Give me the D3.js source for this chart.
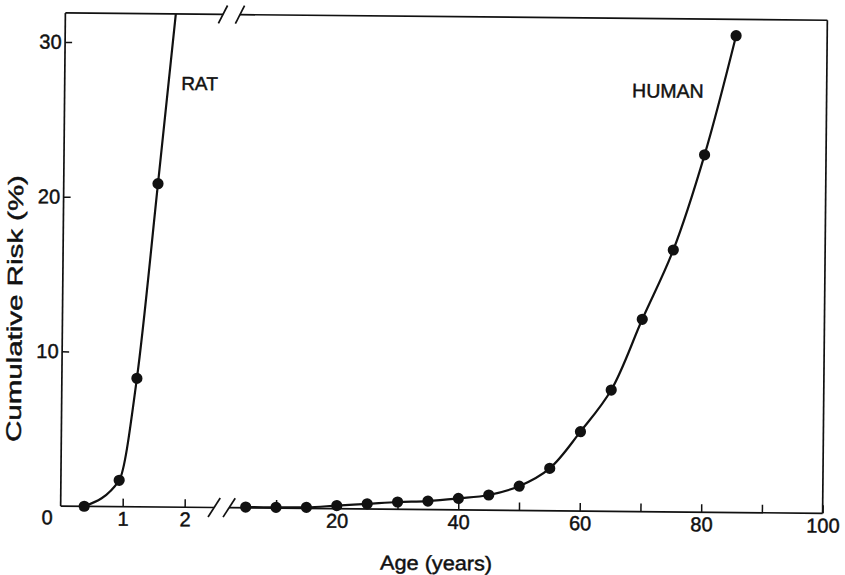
<!DOCTYPE html>
<html>
<head>
<meta charset="utf-8">
<script src="https://cdn.jsdelivr.net/npm/d3@7"></script>
<style>
  body { margin: 0; background: #fff; }
  text { font-family: "Liberation Sans", Arial, sans-serif; fill: #111; stroke: #111; stroke-width: 0.45px; }
</style>
</head>
<body>
<div id="chart"></div>
<script>
// rat: age in years, cumulative risk in %
var ratAge = [0.38, 0.94, 1.21, 1.52];
var ratRisk = [0, 1.7, 8.3, 20.9];
// the fitted rat curve goes on past the last point and leaves through the top of the frame
var ratCurveAge = [0.38, 0.94, 1.21, 1.52, 1.82];
var ratCurveRisk = [0, 1.7, 8.3, 20.9, 33.5];

// human
var humanAge = [5, 10, 15, 20, 25, 30, 35, 40, 45, 50, 55, 60, 65, 70, 75, 80, 85];
var humanRisk = [0.05, 0.05, 0.07, 0.2, 0.33, 0.47, 0.55, 0.74, 0.98, 1.57, 2.74, 5.13, 7.84, 12.43, 16.93, 23.1, 30.82];

var yTicks = [10, 20, 30];
var ratTicks = [1, 2];
var humanTicks = [10, 20, 30, 40, 50, 60, 70, 80, 90, 100];
var humanLabels = [20, 40, 60, 80, 100];

var W = 845, H = 575;
// frame
var L = 63, R = 825, T = 16.6, B = 509.7;

var svg = d3.select("#chart").append("svg")
    .attr("width", W)
    .attr("height", H);

// the scanned figure sits slightly tilted
var g = svg.append("g")
    .attr("transform", "rotate(0.55,444,263)");

var y = d3.scaleLinear().domain([0, 30]).range([B, 45.6]);
var xRat = d3.scaleLinear().domain([0, 2]).range([L, 187]);
var xHum = d3.scaleLinear().domain([40, 100]).range([460.6, R]);

svg.append("defs").append("clipPath")
    .attr("id", "frameClip")
  .append("rect")
    .attr("x", L).attr("y", T)
    .attr("width", R - L).attr("height", B - T);

function styleAxis(a) {
  a.select(".domain").remove();
  a.selectAll("line").attr("stroke", "#111").attr("stroke-width", 1.5);
  a.selectAll("text").style("font-size", "20px").attr("fill", "#111");
}

// y axis ticks + labels
g.append("g")
    .attr("transform", "translate(" + L + ",0)")
    .call(d3.axisLeft(y).tickValues(yTicks).tickSizeInner(-7).tickSizeOuter(0).tickPadding(3.5))
    .call(styleAxis);

// rat x axis
g.append("g")
    .attr("transform", "translate(0," + B + ")")
    .call(d3.axisBottom(xRat).tickValues(ratTicks).tickFormat(d3.format("d"))
      .tickSizeInner(-8).tickSizeOuter(0).tickPadding(5))
    .call(styleAxis);

// human x axis
g.append("g")
    .attr("transform", "translate(0," + B + ")")
    .call(d3.axisBottom(xHum).tickValues(humanTicks)
      .tickFormat(function(d) { return humanLabels.indexOf(d) >= 0 ? d : ""; })
      .tickSizeInner(-8).tickSizeOuter(0).tickPadding(5))
    .call(styleAxis);

// origin label
g.append("text")
    .attr("x", 49.5)
    .attr("y", 528)
    .attr("text-anchor", "middle")
    .style("font-size", "20px")
    .text("0");

// frame with the axis breaks
var frame = [
  [[L, T], [L, B]],
  [[R, T], [R, B]],
  [[L, T], [220.6, T]],
  [[237.6, T], [R, T]],
  [[L, B], [216.5, B]],
  [[231.5, B], [R, B]]
];
g.selectAll(".frame")
    .data(frame)
    .enter()
    .append("line")
      .attr("class", "frame")
      .attr("x1", function(d) { return d[0][0]; })
      .attr("y1", function(d) { return d[0][1]; })
      .attr("x2", function(d) { return d[1][0]; })
      .attr("y2", function(d) { return d[1][1]; })
      .attr("stroke", "#111")
      .attr("stroke-width", 1.7);

// break slashes
var slashes = [
  {cx: 220.6, cy: T, dx: 4.5, dy: 9},
  {cx: 237.6, cy: T, dx: 4.5, dy: 9},
  {cx: 216.5, cy: B, dx: 6, dy: 9.5},
  {cx: 231.5, cy: B, dx: 6, dy: 9.5}
];
g.selectAll(".slash")
    .data(slashes)
    .enter()
    .append("line")
      .attr("class", "slash")
      .attr("x1", function(d) { return d.cx - d.dx; })
      .attr("y1", function(d) { return d.cy + d.dy; })
      .attr("x2", function(d) { return d.cx + d.dx; })
      .attr("y2", function(d) { return d.cy - d.dy; })
      .attr("stroke", "#111")
      .attr("stroke-width", 1.7);

// curves
var ratLine = d3.line()
    .x(function(d, i) { return xRat(ratCurveAge[i]); })
    .y(function(d) { return y(d); })
    .curve(d3.curveMonotoneX);

g.append("path")
    .attr("d", ratLine(ratCurveRisk))
    .attr("clip-path", "url(#frameClip)")
    .attr("fill", "none")
    .attr("stroke", "#111")
    .attr("stroke-width", 2.2);

var humLine = d3.line()
    .x(function(d, i) { return xHum(humanAge[i]); })
    .y(function(d) { return y(d); })
    .curve(d3.curveCatmullRom.alpha(0.5));

g.append("path")
    .attr("d", humLine(humanRisk))
    .attr("fill", "none")
    .attr("stroke", "#111")
    .attr("stroke-width", 2.2);

// points
g.selectAll(".ratPt")
    .data(ratRisk)
    .enter()
    .append("circle")
      .attr("class", "ratPt")
      .attr("cx", function(d, i) { return xRat(ratAge[i]); })
      .attr("cy", function(d) { return y(d); })
      .attr("r", 5.6)
      .attr("fill", "#111");

g.selectAll(".humPt")
    .data(humanRisk)
    .enter()
    .append("circle")
      .attr("class", "humPt")
      .attr("cx", function(d, i) { return xHum(humanAge[i]); })
      .attr("cy", function(d) { return y(d); })
      .attr("r", 5.6)
      .attr("fill", "#111");

// series labels
g.append("text")
    .attr("x", 179.5)
    .attr("y", 92.5)
    .style("font-size", "19px")
    .text("RAT");

g.append("text")
    .attr("x", 630.5)
    .attr("y", 95.5)
    .style("font-size", "19.5px")
    .text("HUMAN");

// axis titles
g.append("text")
    .attr("x", 439)
    .attr("y", 570)
    .attr("text-anchor", "middle")
    .attr("textLength", 112)
    .attr("lengthAdjust", "spacingAndGlyphs")
    .style("font-size", "20px")
    .text("Age (years)");

g.append("text")
    .attr("transform", "translate(22.4,312.6) rotate(-90)")
    .attr("text-anchor", "middle")
    .attr("textLength", 267)
    .attr("lengthAdjust", "spacingAndGlyphs")
    .style("font-size", "21px")
    .text("Cumulative Risk (%)");
</script>
</body>
</html>
